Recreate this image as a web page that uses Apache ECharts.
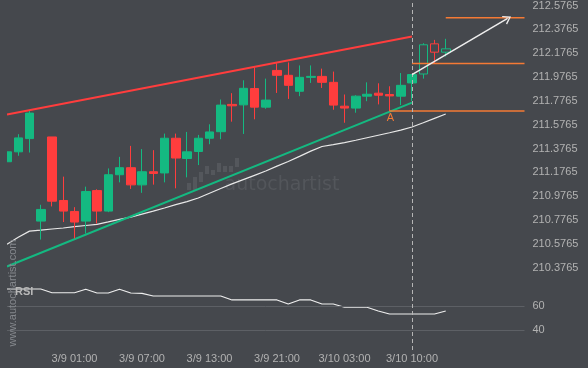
<!DOCTYPE html>
<html><head><meta charset="utf-8">
<script src="https://cdn.jsdelivr.net/npm/echarts@6/dist/echarts.min.js"></script>
<style>html,body{margin:0;padding:0;background:#45484d}#c{width:588px;height:368px}</style>
</head><body><div id="c"></div>
<script>
// ---- data ----
const tickPos = [6, 12, 18, 24, 30, 36];
const tickLabels = ['3/9 01:00', '3/9 07:00', '3/9 13:00', '3/9 21:00', '3/10 03:00', '3/10 10:00'];
const priceTicks = [210.3765, 210.5765, 210.7765, 210.9765, 211.1765, 211.3765, 211.5765, 211.7765, 211.9765, 212.1765, 212.3765, 212.5765];
const rsiTicks = [40, 60];

const open  = [211.266, 211.349, 211.460, 210.768, 211.474, 210.941, 210.849, 210.768, 211.024, 210.852, 211.157, 211.216, 211.072, 211.182, 211.172, 211.463, 211.293, 211.352, 211.463, 211.518, 211.747, 211.743, 211.880, 211.724, 212.032, 211.991, 211.857, 211.974, 211.982, 211.932, 211.732, 211.716, 211.816, 211.841, 211.830, 211.816, 211.927, 212.002, 212.255, 212.185];
const close = [211.349, 211.466, 211.674, 210.866, 210.935, 210.852, 210.760, 211.016, 210.852, 211.157, 211.216, 211.072, 211.182, 211.168, 211.463, 211.297, 211.349, 211.463, 211.516, 211.741, 211.735, 211.882, 211.724, 211.783, 211.991, 211.907, 211.974, 211.982, 211.932, 211.741, 211.716, 211.816, 211.832, 211.824, 211.818, 211.907, 211.997, 212.247, 212.185, 212.213];
const low   = [211.262, 211.316, 211.343, 210.613, 210.891, 210.760, 210.622, 210.663, 210.747, 210.843, 211.093, 211.038, 211.005, 211.074, 211.093, 211.043, 211.135, 211.238, 211.413, 211.455, 211.602, 211.499, 211.622, 211.710, 211.843, 211.793, 211.816, 211.927, 211.885, 211.702, 211.593, 211.677, 211.774, 211.747, 211.691, 211.741, 211.774, 211.963, 212.088, 212.149];
const high  = [211.352, 211.497, 211.691, 210.905, 211.474, 211.141, 210.885, 211.057, 211.035, 211.210, 211.307, 211.399, 211.372, 211.363, 211.502, 211.502, 211.516, 211.491, 211.580, 211.788, 211.841, 211.949, 212.057, 211.963, 212.093, 212.099, 212.074, 212.074, 212.047, 212.022, 211.830, 211.824, 211.932, 211.924, 211.899, 212.010, 212.000, 212.260, 212.288, 212.297];
const firstHollow = 37;

const ma = [210.574, 210.632, 210.684, 210.692, 210.702, 210.710, 210.721, 210.731, 210.741, 210.761, 210.782, 210.802, 210.827, 210.852, 210.878, 210.906, 210.932, 210.962, 211.002, 211.042, 211.080, 211.116, 211.152, 211.188, 211.229, 211.268, 211.311, 211.355, 211.394, 211.410, 211.427, 211.446, 211.467, 211.488, 211.509, 211.531, 211.557, 211.593, 211.630, 211.666];
const rsi = [74.4, 74.4, 74.4, 74.4, 71.3, 71.3, 71.3, 74.2, 71.1, 71.1, 74.2, 71.1, 70.8, 68.6, 68.6, 68.6, 68.6, 68.6, 68.6, 68.6, 65.3, 65.3, 65.3, 65.3, 65.3, 61.9, 65.3, 65.3, 61.9, 61.9, 59.2, 59.2, 59.2, 56.1, 53.6, 53.6, 53.6, 53.6, 53.6, 56.1];

const resistance = [[0, 211.663], [36, 212.316]];
const support = [[0, 210.387], [36, 211.762]];
const arrow = [[36, 211.997], [44.5, 212.468]];
const levelTop = [[39, 212.474], [46, 212.474]];
const levelMid = [[36, 212.091], [46, 212.091]];
const levelLow = [[34, 211.691], [46, 211.691]];
const pointA = [34, 211.691];
const breakIdx = 36;

// ---- colours ----
const BG = '#45484d', UP = '#14b981', DN = '#ff3d3d', ORANGE = '#f57a35', TXT = '#b2b2b2';

const candles = open.map((o, i) => {
  const item = { value: [i, o, close[i], low[i], high[i]] };
  if (i >= firstHollow) item.itemStyle = { color: BG, color0: BG };
  return item;
});

const chart = echarts.init(document.getElementById('c'), null, { renderer: 'canvas' });
const xBase = { type: 'value', min: 0, max: 46, axisLine: { show: false }, axisTick: { show: false }, splitLine: { show: false } };
const lineBase = { type: 'line', symbol: 'none', silent: true, animation: false };

chart.setOption({
  backgroundColor: BG,
  animation: false,
  grid: [
    { left: 7, right: 63.5, top: 0, height: 280 },
    { left: 7, right: 63.5, top: 280, height: 70 }
  ],
  xAxis: [
    Object.assign({ gridIndex: 0, axisLabel: { show: false } }, xBase),
    Object.assign({ gridIndex: 1, axisLabel: { color: TXT, fontSize: 11, margin: 3, fontFamily: 'Liberation Sans, Arial',
      customValues: tickPos, formatter: v => tickLabels[tickPos.indexOf(Math.round(v))] || '' } }, xBase)
  ],
  yAxis: [
    { type: 'value', gridIndex: 0, position: 'right', min: 210.2740, max: 212.6073, scale: true,
      axisLine: { show: false }, axisTick: { show: false }, splitLine: { show: false },
      axisLabel: { color: TXT, fontSize: 11, margin: 8, fontFamily: 'Liberation Sans, Arial', customValues: priceTicks, formatter: v => v.toFixed(4) } },
    { type: 'value', gridIndex: 1, position: 'right', min: 23.58, max: 81.92,
      axisLine: { show: false }, axisTick: { show: false }, splitLine: { show: false },
      axisLabel: { color: TXT, fontSize: 11, margin: 8, fontFamily: 'Liberation Sans, Arial', customValues: rsiTicks, formatter: v => String(Math.round(v)) } }
  ],
  graphic: [
    // mask for the left edge of the price panel (first candle is cut at the plot edge)
    { type: 'rect', silent: true, z: 100, shape: { x: 0, y: 0, width: 7, height: 280 }, style: { fill: BG } },
    { type: 'text', x: 13, y: 293, rotation: Math.PI / 2, silent: true, z: 101,
      style: { text: 'www.autochartist.com', fill: '#85888d', font: '11px "Liberation Sans", Arial', align: 'center', verticalAlign: 'middle' } },
    { type: 'text', x: 15, y: 292, silent: true, z: 101,
      style: { text: 'RSI', fill: '#b8b8b8', font: 'bold 11px "Liberation Sans", Arial', align: 'left', verticalAlign: 'middle' } },
    { type: 'text', x: 282, y: 185, silent: true, z: -1,
      style: { text: 'autochartist', fill: '#53565b', font: '19px "DejaVu Sans"', align: 'center', verticalAlign: 'middle' } },
    { type: 'group', silent: true, z: -1, children: [
      [187, 183, 7], [193, 177, 13], [199, 172, 10], [205, 166, 8], [211, 170, 5], [217, 163, 9], [223, 166, 6], [229, 166, 6], [235, 158, 9]
    ].map(b => ({ type: 'rect', shape: { x: b[0], y: b[1], width: 4, height: b[2] }, style: { fill: '#54575c' } })) }
  ],
  series: [
    { ...lineBase, name: 'MA', xAxisIndex: 0, yAxisIndex: 0, data: ma.map((v, i) => [i, v]),
      lineStyle: { color: '#e8e8e8', width: 1.2 } },
    { ...lineBase, name: 'resistance', xAxisIndex: 0, yAxisIndex: 0, data: resistance,
      lineStyle: { color: DN, width: 2 } },
    { ...lineBase, name: 'support', xAxisIndex: 0, yAxisIndex: 0, data: support,
      lineStyle: { color: UP, width: 2 } },
    { type: 'candlestick', name: 'price', xAxisIndex: 0, yAxisIndex: 0, barWidth: 9, silent: true, z: 3, clip: true,
      itemStyle: { color: UP, color0: DN, borderColor: UP, borderColor0: DN, borderWidth: 1 },
      data: candles,
      markLine: { silent: true, symbol: 'none', label: { show: false },
        lineStyle: { color: '#b5b5b5', type: [4, 3], width: 1 }, data: [{ xAxis: breakIdx }] } },
    { ...lineBase, name: 'levelTop', xAxisIndex: 0, yAxisIndex: 0, data: levelTop, z: 4, lineStyle: { color: ORANGE, width: 1.5 } },
    { ...lineBase, name: 'levelMid', xAxisIndex: 0, yAxisIndex: 0, data: levelMid, z: 4, lineStyle: { color: ORANGE, width: 1.5 } },
    { ...lineBase, name: 'levelLow', xAxisIndex: 0, yAxisIndex: 0, data: levelLow, z: 4, lineStyle: { color: ORANGE, width: 1.5 },
      markPoint: { silent: true, symbol: 'circle', symbolSize: 0,
        label: { show: true, formatter: 'A', position: 'inside', offset: [1, 7], color: ORANGE, fontSize: 11, fontFamily: 'Liberation Sans, Arial' },
        data: [{ coord: pointA }] } },
    { ...lineBase, name: 'arrow', xAxisIndex: 0, yAxisIndex: 0, data: [], z: 5,
      markLine: { silent: true, symbol: ['none', 'path://M0,10 L5,0 L10,10 L8.6,10.6 L5,3.2 L1.4,10.6 Z'], symbolSize: [10, 8],
        label: { show: false }, lineStyle: { color: '#eeeeee', type: 'solid', width: 1.5 },
        data: [[{ coord: arrow[0] }, { coord: arrow[1] }]] } },
    { ...lineBase, name: 'RSI', xAxisIndex: 1, yAxisIndex: 1, data: rsi.map((v, i) => [i, v]),
      lineStyle: { color: '#eeeeee', width: 1.2 },
      markLine: { silent: true, symbol: 'none', label: { show: false }, data: [
        { yAxis: 60, lineStyle: { color: '#5d6065', type: 'solid', width: 1 } },
        { yAxis: 40, lineStyle: { color: '#5d6065', type: 'solid', width: 1 } },
        { xAxis: breakIdx, lineStyle: { color: '#b5b5b5', type: [4, 3], width: 1 } }
      ] } }
  ]
});
</script></body></html>
